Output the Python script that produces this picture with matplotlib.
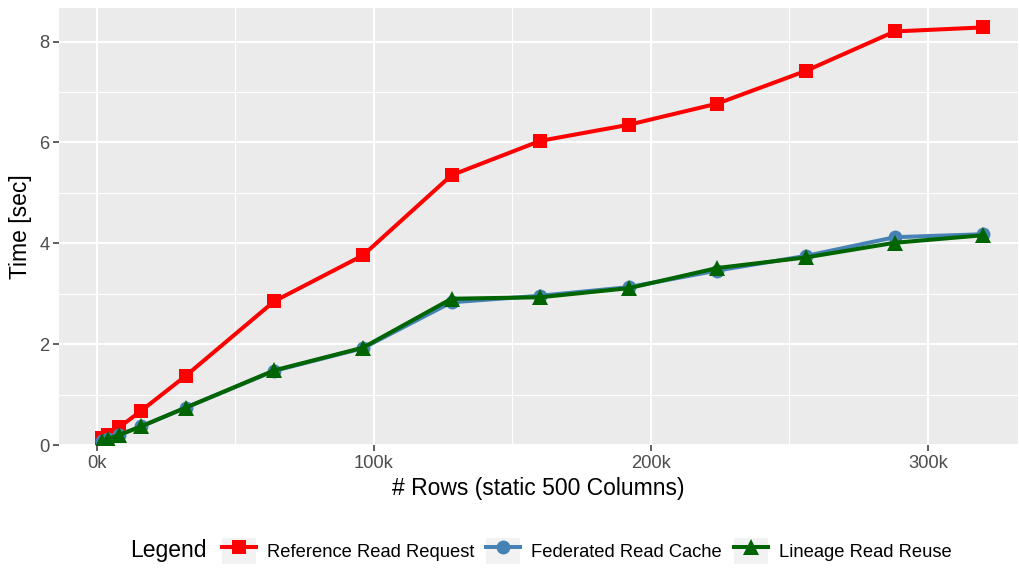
import matplotlib
matplotlib.use("Agg")
import matplotlib.pyplot as plt
from matplotlib.patches import Rectangle
from matplotlib.lines import Line2D
from matplotlib.legend_handler import HandlerTuple
from matplotlib.ticker import FuncFormatter, MultipleLocator

plt.rcParams["font.family"] = ["Liberation Sans", "DejaVu Sans"]

# rows (static 500 columns)
rows = [2000, 4000, 8000, 16000, 32000, 64000, 96000, 128000,
        160000, 192000, 224000, 256000, 288000, 320000]

# time in seconds
reference_read = [0.14, 0.20, 0.35, 0.68, 1.37, 2.85, 3.76, 5.35,
                  6.03, 6.35, 6.77, 7.42, 8.20, 8.28]
federated_cache = [0.08, 0.12, 0.20, 0.37, 0.74, 1.47, 1.92, 2.83,
                   2.96, 3.13, 3.46, 3.75, 4.12, 4.18]
lineage_reuse = [0.08, 0.12, 0.20, 0.37, 0.74, 1.48, 1.93, 2.90,
                 2.93, 3.11, 3.51, 3.72, 4.01, 4.16]

series = [
    ("Reference Read Request", reference_read, "#FF0000", "s", 10.5),
    ("Federated Read Cache", federated_cache, "#4682B4", "o", 10),
    ("Lineage Read Reuse", lineage_reuse, "#006400", "^", 12),
]

fig = plt.figure(figsize=(10.19, 5.68), dpi=100)
ax = fig.add_axes([0.0579, 0.2165, 0.9411, 0.769])
ax.set_facecolor("#EBEBEB")
for s in ax.spines.values():
    s.set_visible(False)

handles = []
for label, vals, color, marker, ms in series:
    ax.plot(rows, vals, color=color, lw=2.9, marker=marker, ms=ms,
            markeredgewidth=0, zorder=3)
    key_bg = Rectangle((0, 0), 1, 1, facecolor="#F2F2F2", edgecolor="none")
    key_line = Line2D([], [], color=color, lw=2.9, marker=marker, ms=ms,
                      markeredgewidth=0)
    handles.append((key_bg, key_line))

ax.set_xlim(-13700, 332500)
ax.set_ylim(0, 8.66)

ax.xaxis.set_major_locator(MultipleLocator(100000))
ax.xaxis.set_minor_locator(MultipleLocator(50000))
ax.yaxis.set_major_locator(MultipleLocator(2))
ax.yaxis.set_minor_locator(MultipleLocator(1))
ax.xaxis.set_major_formatter(FuncFormatter(lambda v, p: f"{int(round(v / 1000))}k"))

ax.grid(which="major", color="white", lw=1.5)
ax.grid(which="minor", color="white", lw=0.75)
ax.set_axisbelow(True)
ax.tick_params(which="major", length=4, width=1.1, color="#333333",
               labelcolor="#4D4D4D", labelsize=13.2, pad=3)
ax.tick_params(which="minor", length=0)

ax.set_xlabel("# Rows (static 500 Columns)", fontsize=16.5, labelpad=4)
ax.set_ylabel("Time [sec]", fontsize=16.5, labelpad=5)

fig.text(130 / 1019, 1 - 551 / 568, "Legend", fontsize=16.5,
         ha="left", va="center")
fig.legend(handles, [s[0] for s in series], ncol=3, frameon=False,
           loc="center", bbox_to_anchor=(587 / 1019, 1 - 551 / 568),
           fontsize=13.2, handlelength=1.85, handleheight=1.85,
           handletextpad=0.6, columnspacing=0.65, borderpad=0,
           handler_map={tuple: HandlerTuple(ndivide=1, pad=0)})

fig.savefig("out.png", dpi=100)
